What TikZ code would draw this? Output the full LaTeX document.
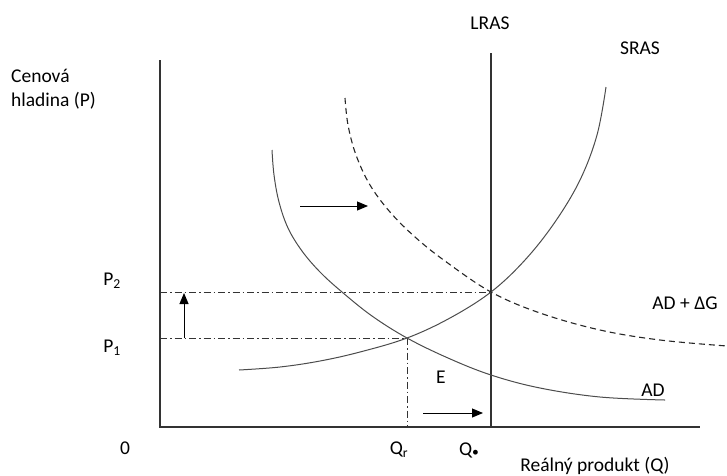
\documentclass[tikz,border=0pt]{standalone}
\usepackage{fontspec}
\usepackage{graphicx}
\setmainfont{Carlito}
\usetikzlibrary{arrows.meta}
\begin{document}
\begin{tikzpicture}[x=1pt,y=-1pt,
  lbl/.style={font=\fontsize{19.5}{23}\selectfont, inner sep=0pt},
  axis/.style={draw=black!80, line width=1.3pt},
  curve/.style={draw=black!70, line width=1pt},
  guide/.style={draw=black!80, line width=0.7pt, dash pattern=on 7pt off 3pt on 1.5pt off 3pt},
  shiftarrow/.style={draw=black, line width=1pt, -{Triangle[length=11pt,width=9pt]}}]
\useasboundingbox (0,0) rectangle (727,475);
% axes
\coordinate (ytop) at (160,60);
\coordinate (orig) at (160,427);
\coordinate (xend) at (700,427);
\draw[axis] (ytop) -- (orig) -- (xend);
% LRAS
\coordinate (lrastop) at (491,53);
\coordinate (lrasbot) at (491,427);
\draw[axis] (lrastop) -- (lrasbot);
% equilibrium points
\coordinate (E1) at (407,338);
\coordinate (E2) at (491,292);
\coordinate (p1) at (160,338);
\coordinate (p2) at (160,292);
\coordinate (qr) at (407,427);
% guide lines
\draw[guide] (p2) -- (E2);
\draw[guide] (p1) -- (E1);
\draw[guide] (E1) -- (qr);
% SRAS
\draw[curve] plot[smooth, tension=0.6] coordinates {(239,370) (280,367) (320,361) (360,352) (407,338) (450,318) (491,292) (525,260) (555,222) (580,180) (597,135) (606,87)};
% AD
\draw[curve] plot[smooth, tension=0.6] coordinates {(272,150) (274,175) (279,202) (288,228) (302,251) (320,272) (342,292) (372,316) (407,338) (448,358) (491,375) (540,388) (600,397) (665,400)};
% AD + dG
\draw[curve, dash pattern=on 6pt off 4pt, line width=1.1pt, draw=black!85] plot[smooth, tension=0.6] coordinates {(345,98) (348,125) (356,155) (370,185) (390,212) (415,237) (445,261) (491,292) (540,313) (600,330) (660,340) (727,346)};
% arrows
\coordinate (a1s) at (184,338); \coordinate (a1e) at (184,293);
\coordinate (a2s) at (300,206); \coordinate (a2e) at (368,206);
\coordinate (a3s) at (423,413); \coordinate (a3e) at (483,413);
\draw[shiftarrow] (a1s) -- (a1e);
\draw[shiftarrow] (a2s) -- (a2e);
\draw[shiftarrow] (a3s) -- (a3e);
% labels
\node[lbl, anchor=west] (cen) at (11,76) {Cenová};
\node[lbl, anchor=west] (hla) at (11,101) {hladina (P)};
\node[lbl] (lras) at (490,23) {LRAS};
\node[lbl] (sras) at (640,48) {SRAS};
\node[lbl] (P2) at (112,281) {P\textsubscript{2}};
\node[lbl] (P1) at (112,348) {P\textsubscript{1}};
\node[lbl] (zero) at (125,448) {0};
\node[lbl] (Qr) at (399,450) {Q\textsubscript{r}};
\node[lbl] (Qs) at (469,450) {Q\raisebox{-0.15ex}{\scalebox{0.7}{•}}};
\node[lbl] (xl) at (595,466) {Reálný produkt (Q)};
\node[lbl] (adg) at (685,303) {AD + ΔG};
\node[lbl] (ad) at (653,390) {AD};
\node[lbl] (E) at (441,377) {E};
\end{tikzpicture}
\end{document}
